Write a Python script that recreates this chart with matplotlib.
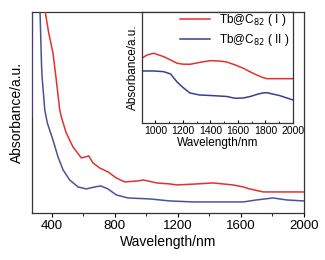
import matplotlib.pyplot as plt
import numpy as np

plt.rcParams['font.family'] = ['Liberation Sans', 'DejaVu Sans']

# main panel, absorbance in arbitrary units
wl_1 = [276, 278, 322, 357, 359, 381, 408, 429, 451, 461, 492, 535, 588, 613, 635,
        662, 704, 757, 810, 863, 947, 981, 1066, 1150, 1193, 1319, 1425, 1551,
        1615, 1657, 1742, 2000]
abs_1 = [98, 400, 400, 215, 201, 180, 160, 133, 103, 96, 80, 66, 55, 56, 57,
         50, 45, 41, 35, 31, 32, 33, 30, 29, 28, 29, 30, 28,
         26, 24, 21, 21]

wl_2 = [276, 278, 320, 324, 326, 335, 338, 356, 372, 408, 440, 472, 514, 567, 619,
        673, 711, 757, 810, 884, 1023, 1150, 1298, 1615, 1700, 1805, 1890, 2000]
abs_2 = [96, 400, 400, 215, 201, 150, 138, 103, 90, 73, 56, 43, 33, 26, 24,
         26, 27, 24, 18, 15, 14, 12, 11, 11, 13, 15, 13, 12]

# inset, 900-2000 nm
wl_in = [900, 940, 987, 1060, 1110, 1157, 1200, 1251, 1320, 1397, 1460, 1518, 1580,
         1639, 1690, 1736, 1780, 1809, 1900, 2000]
abs_in_1 = [64.7, 68, 69.7, 66.3, 63, 59.7, 58.8, 58.7, 60.5, 62.3, 62, 61, 58,
            54.7, 51, 48, 45.5, 44.3, 44.3, 44.3]
abs_in_2 = [52, 52, 52, 51.3, 49, 41, 35.5, 30, 28, 27.5, 27, 26.5, 24.7,
            25, 26.5, 28.5, 30, 30.3, 27.5, 23]

labels = [r'Tb@C$_{82}$ ( I )', r'Tb@C$_{82}$ ( II )']
red = '#e2312f'
blue = '#353f93'

fig = plt.figure(figsize=(3.25, 2.6), dpi=100)
ax = fig.add_axes([0.0985, 0.181, 0.8365, 0.773])
ax.plot(wl_1, abs_1, color=red, lw=1.1, zorder=3)
ax.plot(wl_2, abs_2, color=blue, lw=1.1, zorder=3, alpha=0.9)
ax.set_xlim(275, 2000)
ax.set_ylim(0, 201)
ax.set_xticks(np.arange(400, 2001, 400))
ax.set_xticks(np.arange(600, 2001, 400), minor=True)
ax.set_yticks([])
ax.tick_params(axis='x', direction='out', length=3, labelsize=9.5, pad=2)
ax.tick_params(axis='x', which='minor', direction='out', length=2)
ax.set_xlabel('Wavelength/nm', fontsize=10, labelpad=2)
ax.set_ylabel('Absorbance/a.u.', fontsize=10, labelpad=6)
for s in ax.spines.values():
    s.set_linewidth(0.9)
    s.set_color('#333333')

ins = fig.add_axes([0.436, 0.527, 0.4655, 0.427])
ins.plot(wl_in, abs_in_1, color=red, lw=1.1, label=labels[0])
ins.plot(wl_in, abs_in_2, color=blue, lw=1.1, label=labels[1])
ins.set_xlim(900, 2000)
ins.set_ylim(0, 111)
ins.set_xticks(np.arange(1000, 2001, 200))
ins.set_xticks(np.arange(1100, 2001, 200), minor=True)
ins.set_yticks([])
ins.tick_params(axis='x', direction='in', length=2.5, labelsize=7.5, pad=2)
ins.tick_params(axis='x', which='minor', direction='in', length=1.5)
ins.set_xlabel('Wavelength/nm', fontsize=8.5, labelpad=1)
ins.set_ylabel('Absorbance/a.u.', fontsize=8.5, labelpad=2)
for s in ins.spines.values():
    s.set_linewidth(0.9)
    s.set_color('#333333')
ins.legend(loc='upper right', bbox_to_anchor=(1.02, 1.06), frameon=False,
           fontsize=8.5, handlelength=2.6, handletextpad=0.7,
           borderaxespad=0.2, labelspacing=0.3)

fig.savefig('out.png', dpi=100)
